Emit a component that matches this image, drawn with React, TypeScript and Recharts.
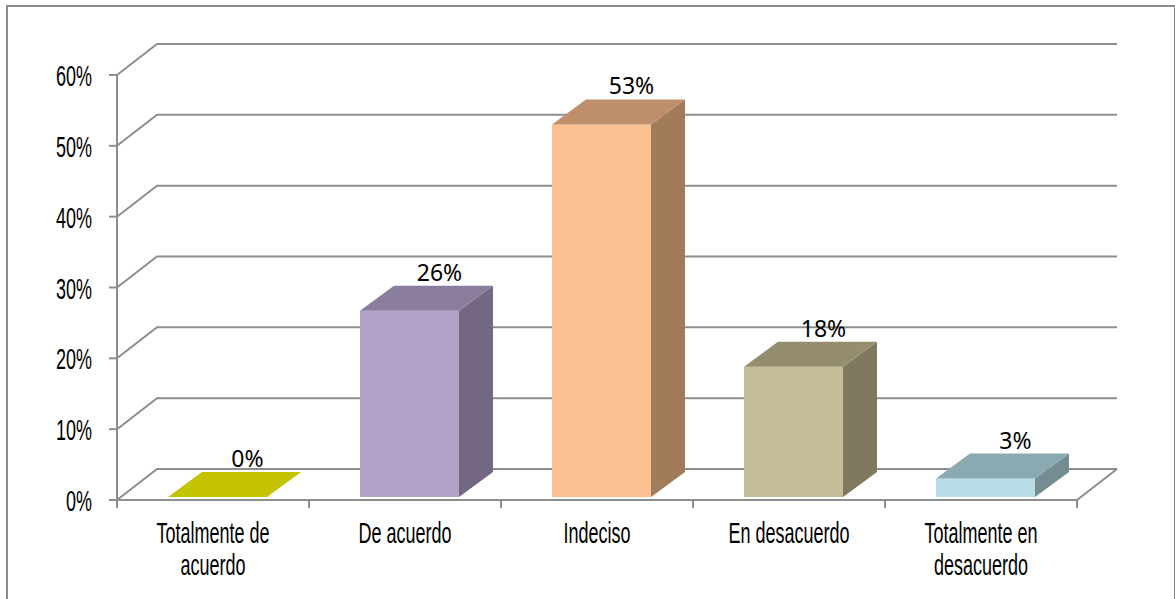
import { BarChart, Bar, XAxis, YAxis, CartesianGrid, LabelList } from 'recharts';

const categories = ['Totalmente de acuerdo', 'De acuerdo', 'Indeciso', 'En desacuerdo', 'Totalmente en desacuerdo'];
const shares = [0, 0.263, 0.526, 0.184, 0.026];
const yTicks = [0, 0.1, 0.2, 0.3, 0.4, 0.5, 0.6];

const data = categories.map((name, i) => ({ name, value: shares[i] }));

// face colours per bar: front, top, side
const faces = [
    { front: '#D4D400', top: '#C4C300', side: '#A3A200' },
    { front: '#B3A2C7', top: '#8B7D9E', side: '#736783' },
    { front: '#FAC090', top: '#BE8F6A', side: '#A27B5A' },
    { front: '#C4BD97', top: '#948E6F', side: '#7F7A5F' },
    { front: '#B7DEE8', top: '#8BA9B0', side: '#748D93' },
];

const W = 1175;
const H = 599;
const PLOT_LEFT = 117;
const PLOT_RIGHT = 98;
const Y_AXIS_W = 60;
const X_AXIS_H = 99;
const BAND = (W - PLOT_LEFT - PLOT_RIGHT) / categories.length;

// perspective offsets
const WALL_DX = 40;
const WALL_DY = 31;
const DEPTH_DX = 34;
const DEPTH_DY = 25;
const SHIFT_X = 4;
const SHIFT_Y = 3;

const GRID = '#8E8E8E';
const AXIS_FONT = '"Liberation Sans", Arial, sans-serif';
const LABEL_FONT = '"Noto Sans", "Open Sans", sans-serif';
const AXIS_SIZE = 30;
const SQUEEZE = 0.6;

const wrap = (s: string, max = 13) => {
    const lines: string[] = [];
    let cur = '';
    s.split(' ').forEach(w => {
        const next = cur ? cur + ' ' + w : w;
        if (next.length > max && cur) {
            lines.push(cur);
            cur = w;
        } else cur = next;
    });
    if (cur) lines.push(cur);
    return lines;
};

const WallLine = (props: any) => {
    const { x1, x2, y1, y, height, index } = props;
    const isFloor = Math.abs(y1 - (y + height)) < 1;
    const pts = `${x1},${y1} ${x1 + WALL_DX},${y1 - WALL_DY} ${x2 + WALL_DX},${y1 - WALL_DY}`;
    return (
        <g key={`wall-${index}`}>
            <polyline points={pts} fill="none" stroke={GRID} strokeWidth={2} />
            {isFloor && (
                <line x1={x2} y1={y1} x2={x2 + WALL_DX} y2={y1 - WALL_DY} stroke={GRID} strokeWidth={2} />
            )}
        </g>
    );
};

const Box = (props: any) => {
    const { x, y, width, height, index } = props;
    const c = faces[index];
    const fx = x + SHIFT_X;
    const fy = y - SHIFT_Y;
    const h = Math.max(height, 0);
    return (
        <g>
            <path d={`M${fx},${fy} h${width} v${h} h${-width} Z`} fill={c.front} />
            <path d={`M${fx + width},${fy} l${DEPTH_DX},${-DEPTH_DY} v${h} l${-DEPTH_DX},${DEPTH_DY} Z`} fill={c.side} />
            <path d={`M${fx},${fy} l${DEPTH_DX},${-DEPTH_DY} h${width} l${-DEPTH_DX},${DEPTH_DY} Z`} fill={c.top} />
        </g>
    );
};

const BoxLabel = (props: any) => {
    const { x, y, width, value } = props;
    return (
        <text
            x={x + width / 2 + SHIFT_X + 30}
            y={y - SHIFT_Y - 30}
            textAnchor="middle"
            fontFamily={LABEL_FONT}
            fontSize={23}
            fill="#000"
        >
            {Math.round(value * 100)}%
        </text>
    );
};

const YTick = (props: any) => {
    const { x, y, payload } = props;
    return (
        <text
            transform={`translate(${x},${y + 11}) scale(${SQUEEZE},1)`}
            textAnchor="end"
            fontFamily={AXIS_FONT}
            fontSize={AXIS_SIZE}
            fill="#000"
        >
            {Math.round(payload.value * 100)}%
        </text>
    );
};

const XTick = (props: any) => {
    const { x, y, payload, index } = props;
    const lines = wrap(payload.value);
    return (
        <g>
            <line x1={x - BAND / 2} y1={y} x2={x - BAND / 2} y2={y + 8} stroke={GRID} strokeWidth={2} />
            {index === categories.length - 1 && (
                <line x1={x + BAND / 2} y1={y} x2={x + BAND / 2} y2={y + 8} stroke={GRID} strokeWidth={2} />
            )}
            {lines.map((l, i) => (
                <text
                    key={i}
                    transform={`translate(${x},${y + 43 + i * 32}) scale(${SQUEEZE},1)`}
                    textAnchor="middle"
                    fontFamily={AXIS_FONT}
                    fontSize={AXIS_SIZE}
                    fill="#000"
                >
                    {l}
                </text>
            ))}
        </g>
    );
};

export default function App() {
    return (
        <div style={{ position: 'absolute', left: 0, top: 0, width: W, height: H, background: '#fff' }}>
            <div style={{ position: 'absolute', left: 6, top: 5, width: 1166, height: 600, border: '2px solid #8C8C8C' }} />
            <BarChart
                width={W}
                height={H}
                data={data}
                margin={{ top: 75, right: PLOT_RIGHT, left: PLOT_LEFT - Y_AXIS_W, bottom: 0 }}
                style={{ position: 'absolute', left: 0, top: 0 }}
            >
                <CartesianGrid vertical={false} horizontal={WallLine} />
                <XAxis
                    dataKey="name"
                    height={X_AXIS_H}
                    interval={0}
                    tickSize={0}
                    tickMargin={0}
                    tickLine={false}
                    axisLine={{ stroke: GRID, strokeWidth: 2 }}
                    tick={XTick}
                />
                <YAxis
                    width={Y_AXIS_W}
                    domain={[0, 0.6]}
                    ticks={yTicks}
                    interval={0}
                    tickSize={8}
                    tickMargin={17}
                    stroke={GRID}
                    axisLine={{ stroke: GRID, strokeWidth: 2 }}
                    tickLine={{ stroke: GRID, strokeWidth: 2 }}
                    tick={YTick}
                />
                <Bar dataKey="value" barSize={99} shape={Box} isAnimationActive={false}>
                    <LabelList dataKey="value" content={BoxLabel} />
                </Bar>
            </BarChart>
        </div>
    );
}
